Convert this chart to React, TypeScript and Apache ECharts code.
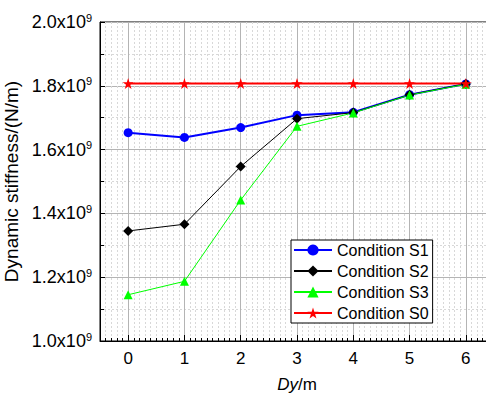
import React, { useEffect, useRef } from "react";
import * as echarts from "echarts";

const dyValues = [0, 1, 2, 3, 4, 5, 6];
const yTicks = [1.0, 1.2, 1.4, 1.6, 1.8, 2.0];
// Dynamic stiffness in units of 1e9 N/m
const conditionS1 = [1.653, 1.638, 1.669, 1.708, 1.717, 1.772, 1.806];
const conditionS2 = [1.345, 1.366, 1.547, 1.697, 1.716, 1.772, 1.806];
const conditionS3 = [1.145, 1.187, 1.442, 1.673, 1.715, 1.771, 1.805];
const conditionS0 = [1.807, 1.807, 1.807, 1.807, 1.807, 1.807, 1.807];

const seriesNames = ["Condition S1", "Condition S2", "Condition S3", "Condition S0"];
const FONT = "Liberation Sans, Arial, sans-serif";
const STAR =
  "path://M50,0 L61.8,35.5 L100,35.5 L69.1,57.4 L80.9,93 L50,71 L19.1,93 L30.9,57.4 L0,35.5 L38.2,35.5 Z";

function pairs(vals: number[]) {
  return dyValues.map((x, i) => [x, vals[i]]);
}

export default function App() {
  const ref = useRef<HTMLDivElement>(null);
  useEffect(() => {
    if (!ref.current) return;
    const chart = echarts.init(ref.current, null, { renderer: "svg" });
    const xRange = { min: -0.5, max: 6.5 };
    const legendText = { fontSize: 16, color: "#000", fontFamily: FONT };
    chart.setOption({
      animation: false,
      backgroundColor: "#ffffff",
      textStyle: { fontFamily: FONT },
      grid: {
        left: 100,
        top: 22,
        width: 394,
        height: 319,
        containLabel: false,
        outerBoundsMode: "none",
        show: true,
        borderColor: "#000",
        borderWidth: 1,
        backgroundColor: "#fff",
      },
      legend: {
        orient: "vertical",
        left: 291,
        top: 240,
        data: seriesNames.map((n) => ({ name: n, textStyle: legendText })),
        backgroundColor: "#fff",
        borderColor: "#000",
        borderWidth: 1,
        borderRadius: 0,
        padding: [2, 4, 2, 2],
        itemWidth: 38,
        itemHeight: 14,
        itemGap: 5,
        textStyle: legendText,
      },
      xAxis: [
        {
          type: "value",
          ...xRange,
          interval: 0.1,
          position: "bottom",
          axisLine: { show: true, onZero: false, lineStyle: { color: "#000", width: 1 } },
          axisTick: { show: true, inside: true, length: 3, lineStyle: { color: "#000" } },
          axisLabel: { show: false },
          splitLine: { show: true, lineStyle: { color: "#d8d8d8", type: [2, 2], width: 1 } },
        },
        {
          type: "value",
          ...xRange,
          position: "bottom",
          name: "{i|Dy}{n|/m}",
          nameLocation: "middle",
          nameGap: 35,
          nameTextStyle: {
            rich: {
              i: { fontStyle: "italic", fontSize: 17, fontFamily: FONT, color: "#000" },
              n: { fontSize: 17, fontFamily: FONT, color: "#000" },
            },
          },
          axisLine: { show: false, onZero: false },
          axisTick: {
            show: true,
            inside: true,
            length: 6,
            customValues: dyValues,
            lineStyle: { color: "#000" },
          },
          axisLabel: {
            show: true,
            customValues: dyValues,
            fontSize: 17,
            color: "#000",
            margin: 9,
            fontFamily: FONT,
          },
          splitLine: { show: true, lineStyle: { color: "#b4b4b4", width: 1 } },
        },
      ],
      yAxis: {
        type: "value",
        min: yTicks[0],
        max: yTicks[yTicks.length - 1],
        interval: 0.2,
        name: "Dynamic stiffness/(N/m)",
        nameLocation: "middle",
        nameGap: 66,
        nameTextStyle: { fontSize: 19, color: "#000", fontFamily: FONT },
        axisLine: { show: true, onZero: false, lineStyle: { color: "#000", width: 1 } },
        axisTick: { show: true, inside: true, length: 5, lineStyle: { color: "#000" } },
        minorTick: { show: true, splitNumber: 2, length: 4, lineStyle: { color: "#000" } },
        splitLine: { show: true, lineStyle: { color: "#b4b4b4", width: 1 } },
        minorSplitLine: { show: true, lineStyle: { color: "#d8d8d8", type: [2, 2], width: 1 } },
        axisLabel: {
          margin: 8,
          formatter: (v: number) => `{a|${v.toFixed(1)}x10}{s|9}`,
          rich: {
            a: { fontSize: 18, color: "#000", fontFamily: FONT },
            s: { fontSize: 11, color: "#000", fontFamily: FONT, verticalAlign: "top", padding: [0, 0, 9, 0] },
          },
        },
      },
      series: [
        {
          name: seriesNames[0],
          type: "line",
          data: pairs(conditionS1),
          color: "#0000ff",
          lineStyle: { width: 2, color: "#0000ff" },
          symbol: "circle",
          symbolSize: 9,
          itemStyle: { color: "#0000ff" },
        },
        {
          name: seriesNames[1],
          type: "line",
          data: pairs(conditionS2),
          color: "#000",
          lineStyle: { width: 1, color: "#000" },
          symbol: "diamond",
          symbolSize: 10,
          itemStyle: { color: "#000" },
        },
        {
          name: seriesNames[2],
          type: "line",
          data: pairs(conditionS3),
          color: "#00ff00",
          lineStyle: { width: 1, color: "#00ff00" },
          symbol: "triangle",
          symbolSize: 9,
          itemStyle: { color: "#00ff00" },
        },
        {
          name: seriesNames[3],
          type: "line",
          data: pairs(conditionS0),
          color: "#ff0000",
          lineStyle: { width: 2, color: "#ff0000" },
          symbol: STAR,
          symbolSize: 11,
          itemStyle: { color: "#ff0000" },
        },
      ],
    });
    return () => chart.dispose();
  }, []);
  return <div ref={ref} style={{ width: 486, height: 394, position: "absolute", left: 0, top: 0 }} />;
}
